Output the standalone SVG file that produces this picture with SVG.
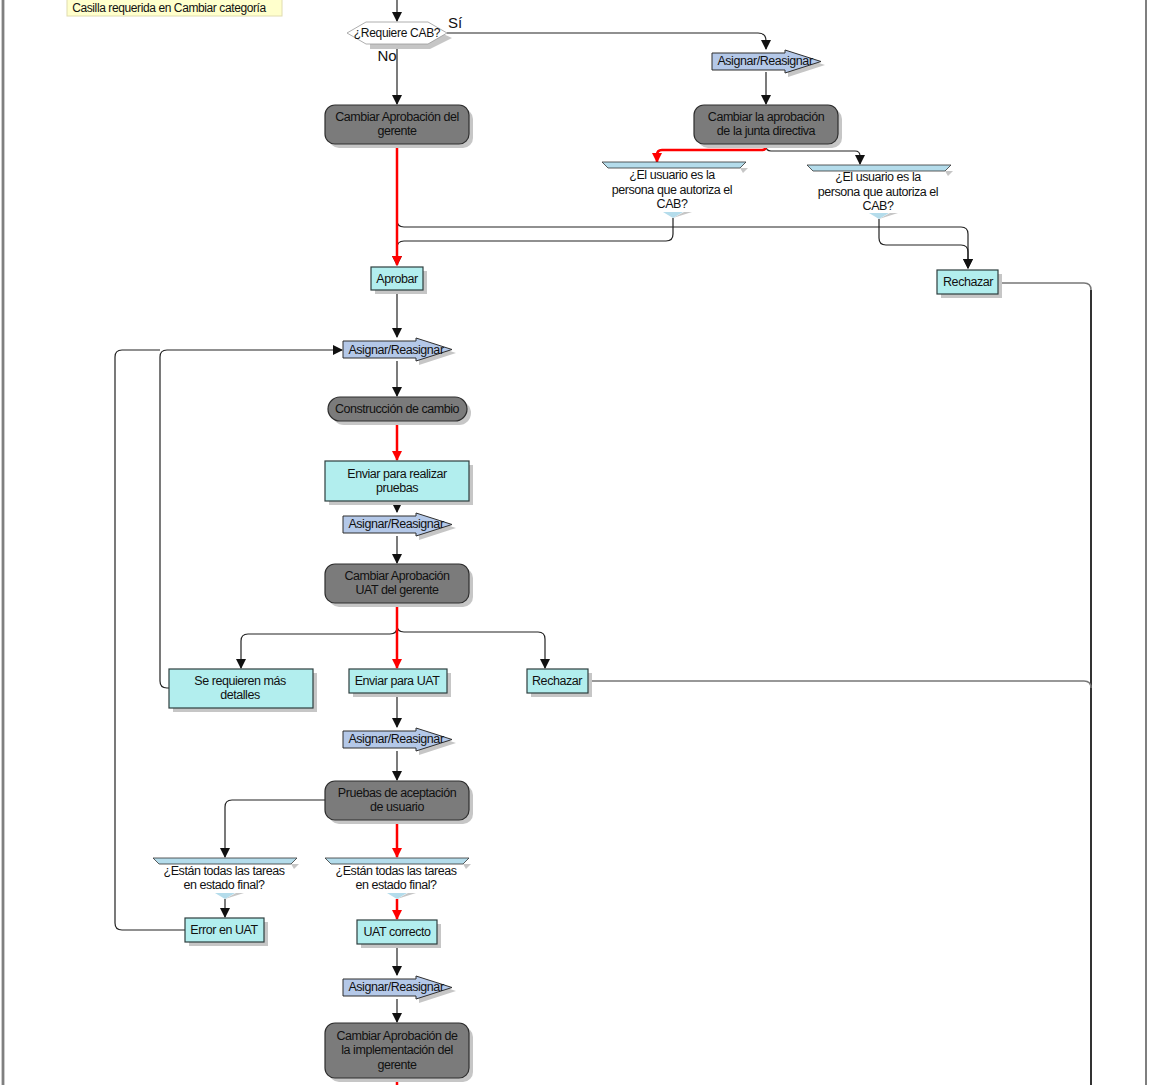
<svg xmlns="http://www.w3.org/2000/svg" width="1150" height="1085" viewBox="0 0 1150 1085">
<style>
text{font-family:"Liberation Sans",Arial,sans-serif;font-size:12.5px;letter-spacing:-0.45px;fill:#111;text-anchor:middle}
.sh{fill:#c6c6c6}
.dark{fill:#7b7b7b;stroke:#2e2e2e;stroke-width:1.2}
.cyan{fill:#b2eeee;stroke:#2e3e3e;stroke-width:1.2}
.blk{fill:#b4c8e8;stroke:#2e2e2e;stroke-width:1}
.bar{fill:#b4dceb;stroke:#333;stroke-width:0.8}
.c{fill:none;stroke:#222;stroke-width:1.2}
.r{fill:none;stroke:#ff0000;stroke-width:2.5}
.g{fill:none;stroke:#777;stroke-width:1.5}
</style>
<defs>
<marker id="ab" markerWidth="10" markerHeight="10" refX="9" refY="5" orient="auto" markerUnits="userSpaceOnUse"><path d="M0,0 L10,5 L0,10 Z" fill="#111"/></marker>
<marker id="ar" markerWidth="10" markerHeight="10" refX="9" refY="5" orient="auto" markerUnits="userSpaceOnUse"><path d="M0,0 L10,5 L0,10 Z" fill="#ff0000"/></marker>
<g id="asg"><path class="sh" d="M76,3 L113,15 L76,27 Z"/><path class="blk" d="M0,3 H73 V0 L109,11.5 L73,23 V20 H0 Z"/></g>
</defs>
<rect width="1150" height="1085" fill="#fff"/>
<line x1="3" y1="0" x2="3" y2="1085" stroke="#999" stroke-width="3"/>
<line x1="3" y1="0" x2="3" y2="1085" stroke="#666" stroke-width="1"/>
<line x1="1146" y1="0" x2="1146" y2="1085" stroke="#555" stroke-width="1.5"/>

<g id="note"><rect x="67" y="-20" width="215" height="36" fill="#ffffcc" stroke="#e0dcb0" stroke-width="1"/><text x="169" y="12" style="font-size:12px;letter-spacing:-0.4px">Casilla requerida en Cambiar categoría</text></g>

<g id="connectors">
<path class="c" d="M397,0 V21" marker-end="url(#ab)"/>
<path class="c" d="M447,33 H758 Q766,33 766,41 V49" marker-end="url(#ab)"/>
<path class="c" d="M397,44 V104" marker-end="url(#ab)"/>
<path class="c" d="M766,72 V104" marker-end="url(#ab)"/>
<path class="c" d="M766,144 V146 Q766,151 771,151 H855 Q860,151 860,156 V164" marker-end="url(#ab)"/>
<path class="c" d="M397,144 V220 Q397,227 404,227 H961 Q968,227 968,234 V268" marker-end="url(#ab)"/>
<path class="c" d="M673,218 V234 Q673,241 666,241 H404 Q397,241 397,248 V265" marker-end="url(#ab)"/>
<path class="c" d="M879,219 V238 Q879,245 886,245 H961 Q968,245 968,252 V268" marker-end="url(#ab)"/>
<path class="r" d="M766,144 V146 Q766,150 762,150 H662 Q657,150 657,155 V162" marker-end="url(#ar)"/>
<path class="r" d="M397,144 V265" marker-end="url(#ar)"/>
<path class="g" d="M998,283 H1084 Q1091,283 1091,290"/>
<line x1="1091" y1="290" x2="1091" y2="1085" stroke="#333" stroke-width="2"/>
<path class="c" d="M397,290 V337" marker-end="url(#ab)"/>
<path class="c" d="M397,361 V396" marker-end="url(#ab)"/>
<path class="r" d="M397,421 V460" marker-end="url(#ar)"/>
<path class="c" d="M397,501 V512" marker-end="url(#ab)"/>
<path class="c" d="M397,536 V563" marker-end="url(#ab)"/>
<path class="c" d="M397,603 V627 Q397,634 390,634 H248 Q241,634 241,641 V668" marker-end="url(#ab)"/>
<path class="c" d="M397,603 V625 Q397,632 404,632 H538 Q545,632 545,639 V668" marker-end="url(#ab)"/>
<path class="r" d="M397,603 V668" marker-end="url(#ar)"/>
<path class="g" d="M588,681 H1084 Q1091,681 1091,688"/>
<path class="c" d="M397,693 V727" marker-end="url(#ab)"/>
<path class="c" d="M397,751 V780" marker-end="url(#ab)"/>
<path class="c" d="M325,800 H232 Q225,800 225,807 V857" marker-end="url(#ab)"/>
<path class="r" d="M397,820 V857" marker-end="url(#ar)"/>
<path class="c" d="M225,899 V917" marker-end="url(#ab)"/>
<path class="r" d="M397,899 V919" marker-end="url(#ar)"/>
<path class="c" d="M397,944 V975" marker-end="url(#ab)"/>
<path class="c" d="M397,999 V1022" marker-end="url(#ab)"/>
<path class="r" d="M397,1078 V1085"/>
<path class="c" d="M169,688 H167 Q160,688 160,681 V357 Q160,350 167,350 H342" marker-end="url(#ab)"/>
<path class="c" d="M185,930 H122 Q115,930 115,923 V357 Q115,350 122,350 H160"/>
</g>

<g id="d-cab">
<path class="sh" d="M370,28 L430,28 L452,38 L430,49 L370,49 Z"/>
<path d="M347,33 L366,22 L428,22 L447,33 L428,44 L366,44 Z" fill="#fff" stroke="#999" stroke-width="0.8"/>
<text x="397" y="37" style="font-size:12px;letter-spacing:-0.3px">¿Requiere CAB?</text>
<text x="455" y="28" style="font-size:15px;letter-spacing:0">Sí</text>
<text x="387" y="61" style="font-size:15px;letter-spacing:0">No</text>
</g>

<g id="asg1"><use href="#asg" x="712" y="50"/><text x="765" y="65">Asignar/Reasignar</text></g>

<g id="n-junta"><rect class="sh" x="698" y="109" width="144" height="39" rx="10"/><rect class="dark" x="694" y="105" width="144" height="39" rx="10"/><text x="766" y="121">Cambiar la aprobación</text><text x="766" y="135">de la junta directiva</text></g>

<g id="n-gerente"><rect class="sh" x="329" y="109" width="144" height="39" rx="10"/><rect class="dark" x="325" y="105" width="144" height="39" rx="10"/><text x="397" y="121">Cambiar Aprobación del</text><text x="397" y="135">gerente</text></g>

<g id="d-user1">
<path class="sh" d="M740,168 L748,168 L743,173 Z"/>
<path class="bar" d="M602,162 H746 L740,168 H608 Z"/>
<text x="672" y="179">¿El usuario es la</text><text x="672" y="194">persona que autoriza el</text><text x="672" y="208">CAB?</text>
<path class="sh" d="M673,218 L684,212 L692,212 Z"/>
<path class="bar" style="stroke:none" d="M663,212 H683 L673,218 Z"/>
</g>

<g id="d-user2">
<path class="sh" d="M945,171 L953,171 L948,176 Z"/>
<path class="bar" d="M807,165 H951 L945,171 H813 Z"/>
<text x="878" y="181">¿El usuario es la</text><text x="878" y="196">persona que autoriza el</text><text x="878" y="210">CAB?</text>
<path class="sh" d="M879,219 L890,213 L898,213 Z"/>
<path class="bar" style="stroke:none" d="M869,213 H889 L879,219 Z"/>
</g>

<g id="n-aprobar"><rect class="sh" x="375" y="271" width="52" height="23"/><rect class="cyan" x="371" y="267" width="52" height="23"/><text x="397" y="283">Aprobar</text></g>
<g id="n-rechazar1"><rect class="sh" x="941" y="274" width="61" height="24"/><rect class="cyan" x="937" y="270" width="61" height="24"/><text x="968" y="286">Rechazar</text></g>

<g id="asg2"><use href="#asg" x="343" y="338"/><text x="396" y="354">Asignar/Reasignar</text></g>

<g id="n-constr"><rect class="sh" x="332" y="401" width="139" height="24" rx="12"/><rect class="dark" x="328" y="397" width="139" height="24" rx="12"/><text x="397" y="413">Construcción de cambio</text></g>

<g id="n-pruebas"><rect class="sh" x="329" y="465" width="144" height="40"/><rect class="cyan" x="325" y="461" width="144" height="40"/><text x="397" y="478">Enviar para realizar</text><text x="397" y="492">pruebas</text></g>

<g id="asg3"><use href="#asg" x="343" y="513"/><text x="396" y="528">Asignar/Reasignar</text></g>

<g id="n-uatger"><rect class="sh" x="329" y="568" width="144" height="39" rx="10"/><rect class="dark" x="325" y="564" width="144" height="39" rx="10"/><text x="397" y="580">Cambiar Aprobación</text><text x="397" y="594">UAT del gerente</text></g>

<g id="n-detalles"><rect class="sh" x="173" y="673" width="144" height="39"/><rect class="cyan" x="169" y="669" width="144" height="39"/><text x="240" y="685">Se requieren más</text><text x="240" y="699">detalles</text></g>
<g id="n-envuat"><rect class="sh" x="353" y="673" width="98" height="24"/><rect class="cyan" x="349" y="669" width="98" height="24"/><text x="397" y="685">Enviar para UAT</text></g>
<g id="n-rechazar2"><rect class="sh" x="531" y="673" width="61" height="24"/><rect class="cyan" x="527" y="669" width="61" height="24"/><text x="557" y="685">Rechazar</text></g>

<g id="asg4"><use href="#asg" x="343" y="728"/><text x="396" y="743">Asignar/Reasignar</text></g>

<g id="n-acept"><rect class="sh" x="329" y="785" width="144" height="39" rx="10"/><rect class="dark" x="325" y="781" width="144" height="39" rx="10"/><text x="397" y="797">Pruebas de aceptación</text><text x="397" y="811">de usuario</text></g>

<g id="d-tareas1">
<path class="sh" d="M291,864 L299,864 L294,869 Z"/>
<path class="bar" d="M153,858 H297 L291,864 H159 Z"/>
<text x="224" y="875">¿Están todas las tareas</text><text x="224" y="889">en estado final?</text>
<path class="sh" d="M225,899 L236,893 L244,893 Z"/>
<path class="bar" style="stroke:none" d="M215,893 H235 L225,899 Z"/>
</g>
<g id="d-tareas2">
<path class="sh" d="M463,864 L471,864 L466,869 Z"/>
<path class="bar" d="M325,858 H469 L463,864 H331 Z"/>
<text x="396" y="875">¿Están todas las tareas</text><text x="396" y="889">en estado final?</text>
<path class="sh" d="M397,899 L408,893 L416,893 Z"/>
<path class="bar" style="stroke:none" d="M387,893 H407 L397,899 Z"/>
</g>

<g id="n-error"><rect class="sh" x="189" y="922" width="79" height="24"/><rect class="cyan" x="185" y="918" width="79" height="24"/><text x="224" y="934">Error en UAT</text></g>
<g id="n-uatok"><rect class="sh" x="361" y="924" width="80" height="24"/><rect class="cyan" x="357" y="920" width="80" height="24"/><text x="397" y="936">UAT correcto</text></g>

<g id="asg5"><use href="#asg" x="343" y="976"/><text x="396" y="991">Asignar/Reasignar</text></g>

<g id="n-impl"><rect class="sh" x="329" y="1027" width="144" height="55" rx="10"/><rect class="dark" x="325" y="1023" width="144" height="55" rx="10"/><text x="397" y="1040">Cambiar Aprobación de</text><text x="397" y="1054">la implementación del</text><text x="397" y="1069">gerente</text></g>
</svg>
